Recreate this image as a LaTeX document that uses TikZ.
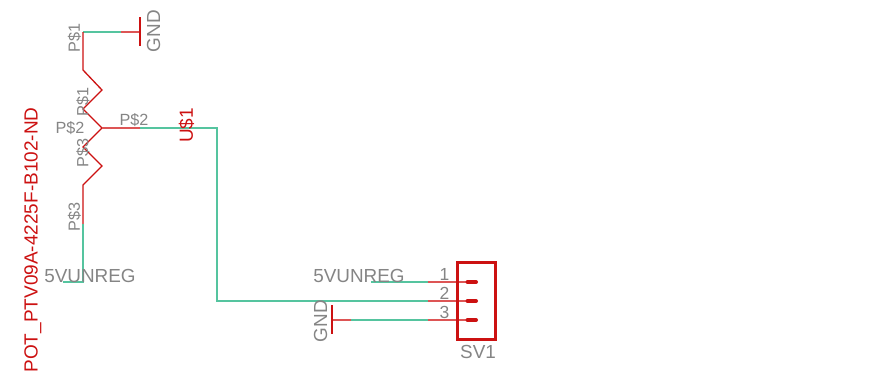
\documentclass[tikz,border=0pt]{standalone}
\usepackage{fontspec}
\setmainfont{Liberation Sans}
\tikzset{
  wirenet/.style = {draw=netgreen, line width=1.3pt},
  wirepin/.style = {draw=pinred, line width=1.3pt},
  symline/.style = {draw=symred, line width=1.5pt},
  pinlabel/.style = {text=labelgray, inner sep=0pt, font=\fontsize{16.2}{17}\selectfont},
  numlabel/.style = {text=labelgray, inner sep=0pt, font=\fontsize{17.5}{18}\selectfont},
  netlabel/.style = {text=labelgray, inner sep=0pt, font=\fontsize{18.9}{19}\selectfont},
  partlabel/.style = {text=symred, inner sep=0pt, font=\fontsize{19}{20}\selectfont},
  padmark/.style = {draw=symred, line width=4pt, line cap=round}
}
\definecolor{netgreen}{HTML}{55C49F}
\definecolor{pinred}{HTML}{DD5555}
\definecolor{symred}{HTML}{CC1111}
\definecolor{labelgray}{HTML}{858585}
\begin{document}
\begin{tikzpicture}[x=1pt, y=-1pt]
  \useasboundingbox (0,0) rectangle (890,373);

  \coordinate (topend)   at ( 83,  32);
  \coordinate (topbend)  at (121,  32);
  \coordinate (gndtop)   at (140,  32);
  \coordinate (gndtopa)  at (140,  17);
  \coordinate (gndtopb)  at (140,  46);
  \coordinate (zigstart) at ( 83,  70);
  \coordinate (zigone)   at (102,  90);
  \coordinate (zigtwo)   at ( 83, 109);
  \coordinate (wiper)    at (102, 128);
  \coordinate (zigthree) at ( 83, 147);
  \coordinate (zigfour)  at (102, 166);
  \coordinate (zigend)   at ( 83, 185);
  \coordinate (lowsplit) at ( 83, 224);
  \coordinate (lowend)   at ( 83, 282);
  \coordinate (lowstub)  at ( 63, 282);
  \coordinate (wipersplit) at (140, 128);
  \coordinate (netcorner)  at (217, 128);
  \coordinate (netdown)    at (217, 301);
  \coordinate (pinonestub) at (371, 282);
  \coordinate (pinone)     at (428, 282);
  \coordinate (pinonepad)  at (466, 282);
  \coordinate (pintwo)     at (428, 301);
  \coordinate (pintwopad)  at (466, 301);
  \coordinate (pinthree)   at (428, 320);
  \coordinate (pinthreepad) at (466, 320);
  \coordinate (gndlow)     at (332, 320);
  \coordinate (gndlowsplit) at (351, 320);
  \coordinate (gndlowa)    at (332, 305);
  \coordinate (gndlowb)    at (332, 334);

  \draw[wirenet] (topend) -- (topbend);
  \draw[wirepin] (topbend) -- (gndtop);
  \draw[symline] (gndtopa) -- (gndtopb);
  \draw[symline, line width=1.3pt, line join=miter] (topend) -- (zigstart) -- (zigone) -- (zigtwo) -- (wiper) -- (zigthree) -- (zigfour) -- (zigend) -- (lowsplit);
  \draw[wirenet] (lowsplit) -- (lowend) -- (lowstub);
  \draw[wirepin] (wiper) -- (wipersplit);
  \draw[wirenet] (wipersplit) -- (netcorner) -- (netdown) -- (pintwo);
  \draw[wirepin] (pintwo) -- (pintwopad);
  \draw[wirenet] (pinonestub) -- (pinone);
  \draw[wirepin] (pinone) -- (pinonepad);
  \draw[wirepin] (gndlow) -- (gndlowsplit);
  \draw[wirenet] (gndlowsplit) -- (pinthree);
  \draw[wirepin] (pinthree) -- (pinthreepad);
  \draw[symline] (gndlowa) -- (gndlowb);

  \draw[symred, line width=3pt] (457.3,262.5) rectangle (495.8,339);
  \foreach \row in {282,301,320} {
    \draw[padmark] (467.5,\row) -- (476,\row);
  }

  \node[pinlabel, rotate=90] (pinoneup) at (74.5, 38) {P\$1};
  \node[netlabel, rotate=90] (gndtoplabel) at (153.5, 31) {GND};
  \node[pinlabel, rotate=90] (pinonemid) at (83, 102) {P\$1};
  \node[pinlabel] (pintwoleft) at (70, 128.5) {P\$2};
  \node[pinlabel] (pintworight) at (134, 120) {P\$2};
  \node[pinlabel, rotate=90] (pinthreemid) at (83, 153) {P\$3};
  \node[pinlabel, rotate=90] (pinthreelow) at (74.5, 217) {P\$3};
  \node[partlabel, rotate=90] (ulabel) at (186.5, 125.5) {U\$1};
  \node[partlabel, rotate=90] (potlabel) at (33, 240) {POT\_PTV09A-4225F-B102-ND};
  \node[netlabel] (vleft) at (90, 276) {5VUNREG};
  \node[netlabel] (vright) at (359, 276) {5VUNREG};
  \node[netlabel, rotate=90] (gndlowlabel) at (320.5, 321) {GND};
  \node[numlabel] (numone) at (444.5, 274) {1};
  \node[numlabel] (numtwo) at (444.5, 293) {2};
  \node[numlabel] (numthree) at (444.5, 312.5) {3};
  \node[netlabel] (svlabel) at (478, 352) {SV1};
\end{tikzpicture}
\end{document}
